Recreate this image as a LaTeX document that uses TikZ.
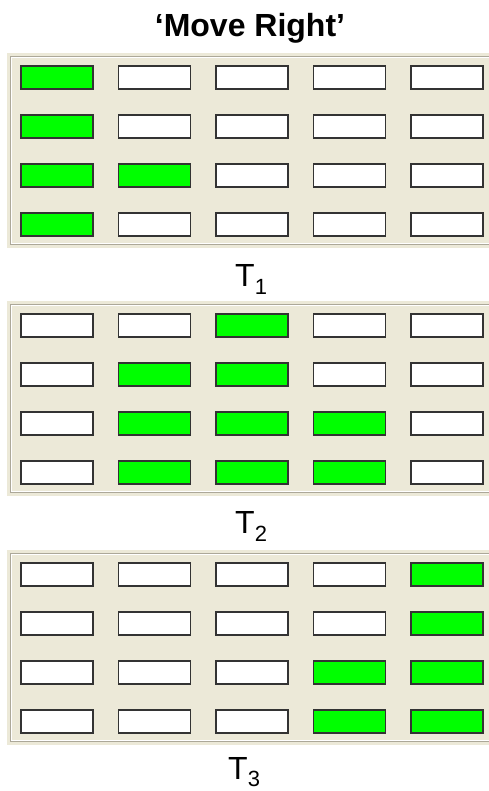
\documentclass[tikz,border=0pt]{standalone}
\usepackage{fontspec}
\setmainfont{Liberation Sans}
\definecolor{panelbg}{HTML}{ECE9D8}
\definecolor{groove}{HTML}{ACA899}
\definecolor{cellline}{HTML}{333333}
\definecolor{oncol}{HTML}{00FF00}
\newcommand\drawpanel[3]{%
  \path[fill=panelbg] (7,#2) rectangle (495,#2+195);
  \draw[groove,line width=1pt] (10.5,#2+3.5) rectangle (500,#2+191.5);
  \draw[white,line width=1pt] (11.5,#2+4.5) rectangle (500,#2+190.5);
  \foreach \r/\pat in {#3} {
    \foreach \v [count=\c] in \pat {
      \ifnum\v=1 \def\cf{oncol}\else\def\cf{white}\fi
      \node[cell, fill=\cf] (p#1r\r c\c) at ({57+97.5*(\c-1)}, {#2+24.5+49*(\r-1)}) {};
    }
  }
}
\begin{document}
\begin{tikzpicture}[x=1pt,y=-1pt,
  cell/.style={draw=cellline, line width=1.7pt, minimum width=72pt, minimum height=23pt, inner sep=0pt},
  lbl/.style={font=\fontsize{32}{32}\selectfont, anchor=base west, inner sep=0pt}]
\useasboundingbox (0,0) rectangle (489,791);
\node[font=\bfseries\fontsize{32}{32}\selectfont, anchor=base, inner sep=0pt] (title) at (250,37) {‘Move Right’};
\drawpanel{1}{53}{1/{1,0,0,0,0},2/{1,0,0,0,0},3/{1,1,0,0,0},4/{1,0,0,0,0}}
\drawpanel{2}{301}{1/{0,0,1,0,0},2/{0,1,1,0,0},3/{0,1,1,1,0},4/{0,1,1,1,0}}
\drawpanel{3}{550}{1/{0,0,0,0,1},2/{0,0,0,0,1},3/{0,0,0,1,1},4/{0,0,0,1,1}}
\node[lbl] (t1) at (235,287) {T\raisebox{-8pt}{\fontsize{22}{22}\selectfont 1}};
\node[lbl] (t2) at (235,533) {T\raisebox{-8pt}{\fontsize{22}{22}\selectfont 2}};
\node[lbl] (t3) at (228,779) {T\raisebox{-7pt}{\fontsize{22}{22}\selectfont 3}};
\end{tikzpicture}
\end{document}
